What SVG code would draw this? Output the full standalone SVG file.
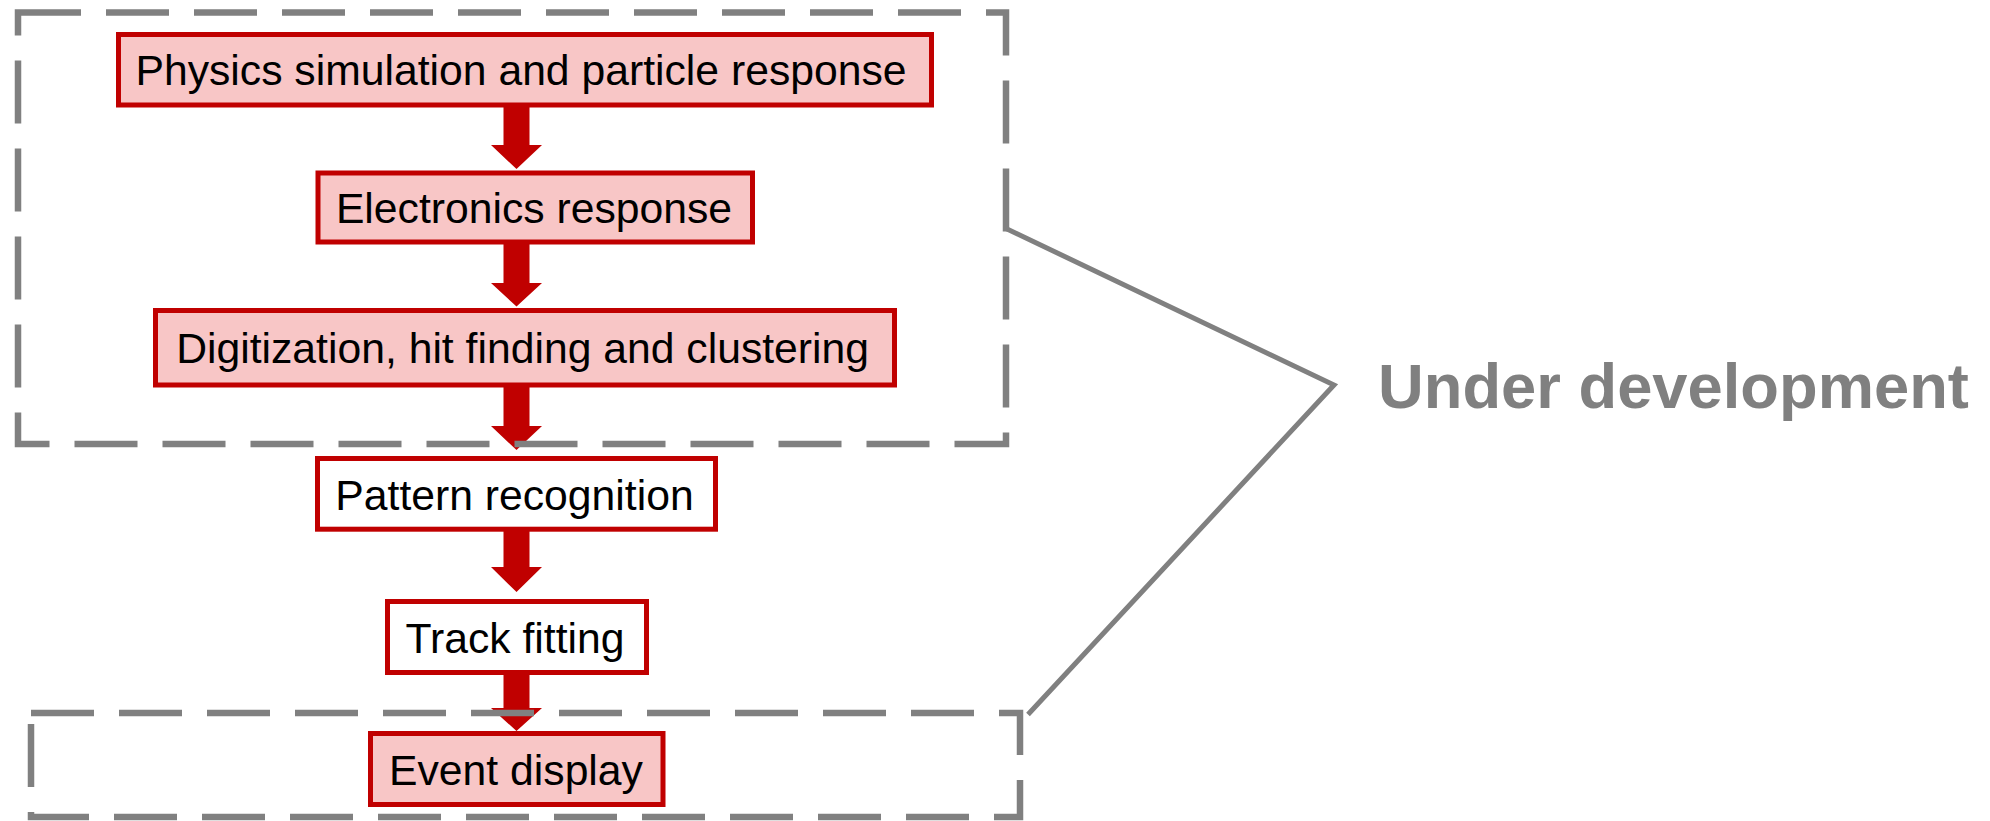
<svg xmlns="http://www.w3.org/2000/svg" width="1990" height="821" viewBox="0 0 1990 821">
<style>
.node rect{stroke:#C00000;stroke-width:5}
.pink{fill:#F8C6C6}
.white{fill:#FFFFFF}
.lbl{font-family:"Liberation Sans",Arial,sans-serif;font-size:42.7px;fill:#000;text-anchor:middle}
.dash{fill:none;stroke:#808080;stroke-width:6.5;stroke-dasharray:63 25}
.arrow{fill:#C00000}
.callout{fill:none;stroke:#808080;stroke-width:5;stroke-linejoin:miter}
.big{font-family:"Liberation Sans",Arial,sans-serif;font-weight:bold;font-size:63.3px;fill:#808080}
</style>
<rect width="1990" height="821" fill="#FFFFFF"/>
<g id="connectors">
<polygon class="arrow" points="503.5,106 529.5,106 529.5,145 542,145 516.5,169 491,145 503.5,145"/>
<polygon class="arrow" points="503.5,243 529.5,243 529.5,283 542,283 516.5,306.5 491,283 503.5,283"/>
<polygon class="arrow" points="503.5,386 529.5,386 529.5,426 542,426 516.5,450 491,426 503.5,426"/>
<polygon class="arrow" points="503.5,530 529.5,530 529.5,567 542,567 516.5,592 491,567 503.5,567"/>
<polygon class="arrow" points="503.5,674 529.5,674 529.5,708 542,708 516.5,731 491,708 503.5,708"/>
</g>
<g id="groups">
<rect id="group-upper" class="dash" x="18" y="12.5" width="988" height="431.5"/>
<rect id="group-lower" class="dash" x="31" y="713" width="989" height="104"/>
</g>
<g id="node-physics" class="node">
<rect class="pink" x="118.5" y="34.5" width="813" height="70.5"/>
<text class="lbl" x="521" y="85">Physics simulation and particle response</text>
</g>
<g id="node-electronics" class="node">
<rect class="pink" x="318" y="173" width="434.5" height="69"/>
<text class="lbl" x="534" y="222.8">Electronics response</text>
</g>
<g id="node-digitization" class="node">
<rect class="pink" x="155.5" y="310.5" width="739" height="74.5"/>
<text class="lbl" x="522.6" y="363.3">Digitization, hit finding and clustering</text>
</g>
<g id="node-pattern" class="node">
<rect class="white" x="317.5" y="458.5" width="398" height="70.7"/>
<text class="lbl" x="514.5" y="509.5">Pattern recognition</text>
</g>
<g id="node-track" class="node">
<rect class="white" x="387.5" y="601.5" width="259" height="71"/>
<text class="lbl" x="515" y="652.8">Track fitting</text>
</g>
<g id="node-event" class="node">
<rect class="pink" x="370.5" y="733.5" width="292.5" height="71"/>
<text class="lbl" x="516" y="784.6">Event display</text>
</g>
<g id="callout">
<polyline class="callout" points="1006,228.5 1334,385 1028,714.5"/>
<text class="big" x="1378" y="408">Under development</text>
</g>
</svg>
